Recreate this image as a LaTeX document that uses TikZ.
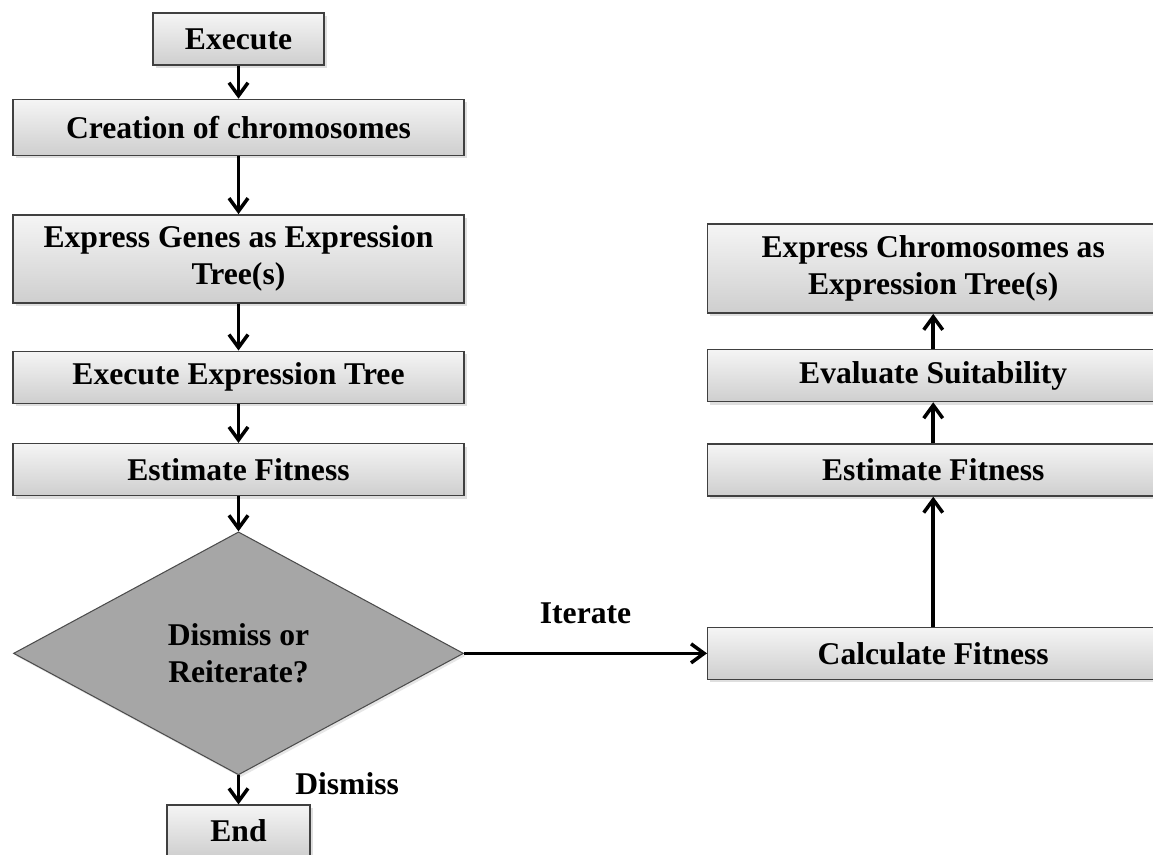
\documentclass[tikz,border=0pt]{standalone}
\usepackage{fontspec}
\setmainfont{Liberation Serif}
\usepackage{tikz}
\usetikzlibrary{arrows.meta, positioning, shapes.geometric, shadows}

\begin{document}
\begin{tikzpicture}[font=\bfseries\fontsize{18}{21}\selectfont,
    box/.style={draw=black!75, line width=0.8pt, top color=gray!8, bottom color=gray!38,
      minimum width=9.02cm, minimum height=1.04cm, align=center, inner sep=2pt,
      drop shadow={shadow xshift=0.05cm, shadow yshift=-0.06cm, opacity=0.25}},
    dec/.style={diamond, draw=black!70, line width=0.6pt, fill=black!35, aspect=1.85,
      minimum width=9cm, minimum height=4.86cm, inner sep=0pt, align=center,
      drop shadow={shadow xshift=0.04cm, shadow yshift=-0.05cm, opacity=0.2}},
    arr/.style={-{Straight Barb[length=2.6mm, width=3.8mm, line width=2pt]}, line width=2pt},
    lbl/.style={inner sep=0pt},
    ]

    \useasboundingbox (0,0) rectangle (23.06,-17.08);
    \clip (0,0) rectangle (23.06,-17.08);

    % Left column
    \node[box, minimum width=3.42cm] at (4.77,-0.78) (exec) {Execute};
    \node[box, minimum height=1.12cm, below=0.66cm of exec] (create) {Creation of chromosomes};
    \node[box, minimum height=1.76cm, below=1.16cm of create] (genes) {Express Genes as Expression\\Tree(s)};
    \node[box, below=0.94cm of genes] (runtree) {Execute Expression Tree};
    \node[box, below=0.78cm of runtree] (estl) {Estimate Fitness};
    \node[dec, below=0.7cm of estl] (choice) {Dismiss or\\Reiterate?};
    \node[box, minimum width=2.86cm, below=0.58cm of choice] (stop) {End};

    % Right column
    \node[box, right=4.86cm of choice] (calc) {Calculate Fitness};
    \node[box, above=2.6cm of calc] (estr) {Estimate Fitness};
    \node[box, above=0.82cm of estr] (suit) {Evaluate Suitability};
    \node[box, minimum height=1.78cm, above=0.7cm of suit] (chrom) {Express Chromosomes as\\Expression Tree(s)};

    % Arrows down the left column
    \foreach \a/\b in {exec/create, create/genes, genes/runtree, runtree/estl, estl/choice} {
      \draw[arr] (\a.south) -- (\b.north);
    }
    \draw[arr] (choice.south) -- (stop.north)
      node[lbl, pos=0.27, right=1.1cm] (lbldis) {Dismiss};

    % Iterate branch
    \draw[arr] (choice.east) -- (calc.west)
      node[lbl, midway, above=0.56cm] (lbliter) {Iterate};

    % Arrows up the right column
    \foreach \a/\b in {calc/estr, estr/suit, suit/chrom} {
      \draw[arr] (\a.north) -- (\b.south);
    }
  \end{tikzpicture}
\end{document}
